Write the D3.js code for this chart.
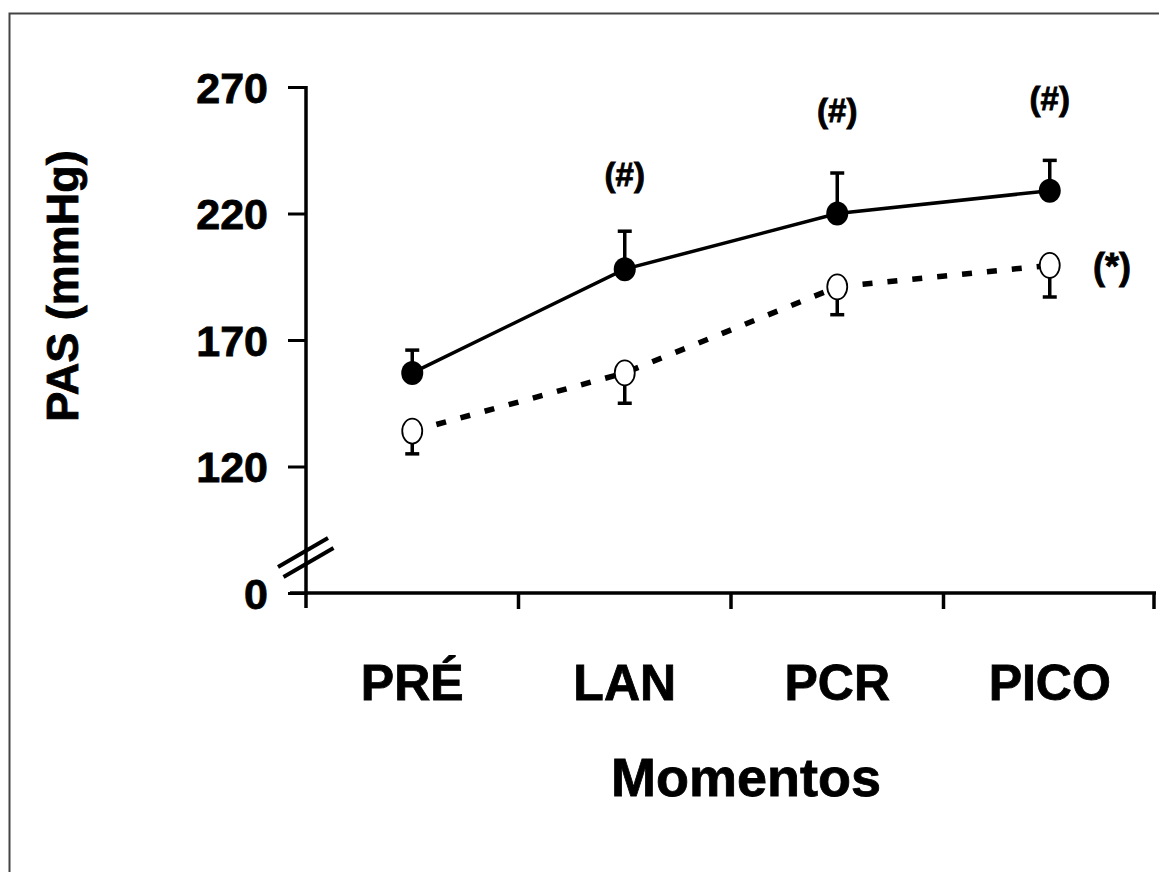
<!DOCTYPE html>
<html>
<head lang="en">
    <meta charset="UTF-8">
    <title>PAS</title>
    <script src="https://d3js.org/d3.v7.min.js"></script>
    <style>
        body { margin: 0; background: #fff; }
        text { font-family: "Liberation Sans", Arial, sans-serif; font-weight: bold; fill: #000;
               stroke: #000; stroke-width: 0.8px; }
    </style>
</head>
<body>
<svg id="chart" width="1159" height="872"></svg>
<script>
    // data
    const MOMENTOS = ["PRÉ", "LAN", "PCR", "PICO"];
    const SOLID_MEAN = [157, 198, 220, 229];
    const SOLID_SD = [9, 15, 16, 12];
    const OPEN_MEAN = [134, 157, 191, 199.5];
    const OPEN_SD = [9, 12, 11, 12.5];
    const Y_TICKS = [70, 120, 170, 220, 270];
    const Y_TICK_LABELS = ["0", "120", "170", "220", "270"];
    const HASH_MARKS = [{cat: "LAN", v: 231}, {cat: "PCR", v: 256}, {cat: "PICO", v: 261}];

    let svg = d3.select('#chart');

    // outer frame
    svg.append('rect')
        .attr('x', 9.5).attr('y', 13.5)
        .attr('width', 1200).attr('height', 900)
        .attr('fill', 'none').attr('stroke', '#444').attr('stroke-width', 2);

    const x0 = 306, x1 = 1156, yTop = 87, yBot = 593;

    let xscale = d3.scaleBand().domain(MOMENTOS).range([x0, x1]);
    let yscale = d3.scaleLinear().domain([70, 270]).range([yBot, yTop]);
    let cx = d => xscale(d) + xscale.bandwidth() / 2;

    // y axis
    let yAxis = svg.append('g')
        .attr('transform', `translate(${x0},0)`)
        .call(d3.axisLeft(yscale).tickValues(Y_TICKS)
            .tickFormat((d, i) => Y_TICK_LABELS[i]).tickSize(18).tickPadding(20));
    yAxis.select('.domain').remove();
    yAxis.selectAll('line').attr('stroke', '#000').attr('stroke-width', 3);
    yAxis.selectAll('text').style('font-size', '43px').attr('dy', '0.36em');
    svg.append('line')
        .attr('x1', x0).attr('x2', x0).attr('y1', yTop - 1).attr('y2', yBot + 15)
        .attr('stroke', '#000').attr('stroke-width', 3.5);

    // x axis
    let xAxis = svg.append('g')
        .attr('transform', `translate(0,${yBot})`);
    xAxis.append('line')
        .attr('x1', x0 - 16).attr('x2', x1).attr('y1', 0).attr('y2', 0)
        .attr('stroke', '#000').attr('stroke-width', 3.5);
    xAxis.selectAll('.sep')
        .data(MOMENTOS.slice(1).concat(['end']))
        .enter().append('line')
        .attr('x1', d => d === 'end' ? x1 - 2 : xscale(d))
        .attr('x2', d => d === 'end' ? x1 - 2 : xscale(d))
        .attr('y1', 0).attr('y2', 16)
        .attr('stroke', '#000').attr('stroke-width', 3.5);
    xAxis.selectAll('.lab')
        .data(MOMENTOS)
        .enter().append('text')
        .attr('x', d => cx(d))
        .attr('y', 107)
        .attr('text-anchor', 'middle')
        .style('font-size', '50px')
        .text(d => d);

    // axis break
    [0, 10].forEach(off => {
        svg.append('line')
            .attr('x1', 278 + off * 0.55).attr('y1', 567 + off)
            .attr('x2', 328 + off * 0.55).attr('y2', 538 + off)
            .attr('stroke', '#000').attr('stroke-width', 4);
    });

    // titles
    svg.append('text')
        .attr('transform', 'translate(78,286) rotate(-90)')
        .attr('text-anchor', 'middle')
        .style('font-size', '45px')
        .text('PAS (mmHg)');
    svg.append('text')
        .attr('x', 746).attr('y', 796)
        .attr('text-anchor', 'middle')
        .style('font-size', '54px')
        .text('Momentos');

    // lines
    let line = (vals) => d3.line()
        .x((d, i) => cx(MOMENTOS[i]))
        .y(d => yscale(d))(vals);

    svg.append('path')
        .attr('d', line(SOLID_MEAN))
        .attr('fill', 'none').attr('stroke', '#000').attr('stroke-width', 3.5);
    svg.append('path')
        .attr('d', line(OPEN_MEAN))
        .attr('fill', 'none').attr('stroke', '#000').attr('stroke-width', 5.5)
        .attr('stroke-dasharray', '10,15');

    // error bars
    function errBars(mean, sd, dir) {
        let g = svg.append('g');
        MOMENTOS.forEach((c, i) => {
            let yEnd = yscale(mean[i] + dir * sd[i]);
            g.append('line')
                .attr('x1', cx(c)).attr('x2', cx(c))
                .attr('y1', yscale(mean[i])).attr('y2', yEnd)
                .attr('stroke', '#000').attr('stroke-width', 3.5);
            g.append('line')
                .attr('x1', cx(c) - 7).attr('x2', cx(c) + 7)
                .attr('y1', yEnd).attr('y2', yEnd)
                .attr('stroke', '#000').attr('stroke-width', 3.5);
        });
    }
    errBars(SOLID_MEAN, SOLID_SD, 1);
    errBars(OPEN_MEAN, OPEN_SD, -1);

    // markers
    svg.selectAll('.solid')
        .data(SOLID_MEAN)
        .enter().append('ellipse')
        .attr('cx', (d, i) => cx(MOMENTOS[i]))
        .attr('cy', d => yscale(d))
        .attr('rx', 11).attr('ry', 12)
        .attr('fill', '#000');
    svg.selectAll('.open')
        .data(OPEN_MEAN)
        .enter().append('ellipse')
        .attr('cx', (d, i) => cx(MOMENTOS[i]))
        .attr('cy', d => yscale(d))
        .attr('rx', 10).attr('ry', 12.5)
        .attr('fill', '#fff').attr('stroke', '#000').attr('stroke-width', 1.8);

    // significance marks
    svg.selectAll('.hash')
        .data(HASH_MARKS)
        .enter().append('text')
        .attr('x', d => cx(d.cat))
        .attr('y', d => yscale(d.v))
        .attr('text-anchor', 'middle')
        .style('font-size', '33px')
        .text('(#)');
    svg.append('text')
        .attr('x', 1112)
        .attr('y', yscale(OPEN_MEAN[3]) + 14)
        .attr('text-anchor', 'middle')
        .style('font-size', '36px')
        .text('(*)');
</script>
</body>
</html>
